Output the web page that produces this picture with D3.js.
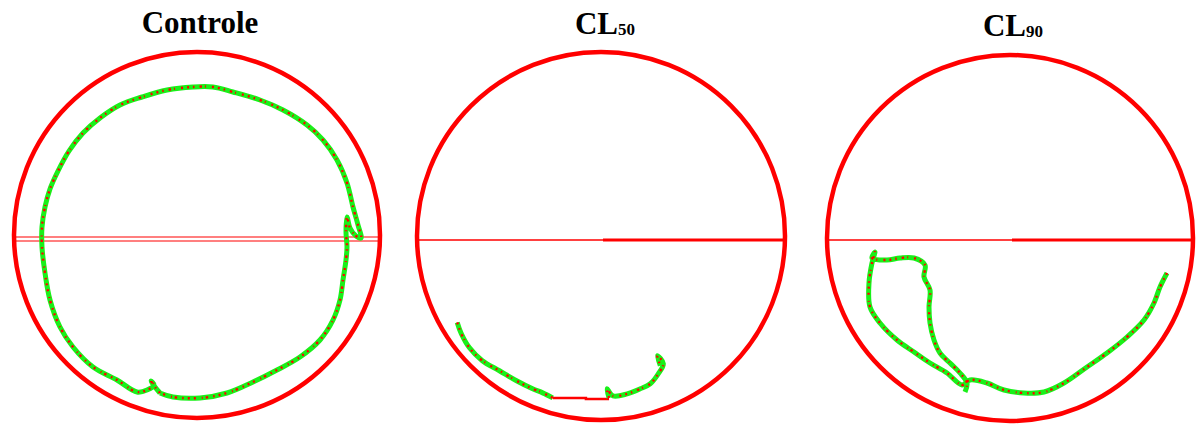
<!DOCTYPE html>
<html>
<head>
<meta charset="utf-8">
<script src="https://cdn.jsdelivr.net/npm/d3@7"></script>
<style>
  body { margin: 0; background: #fff; }
</style>
</head>
<body>
<div id="chart"></div>
<script>
// titles of the three arenas
var titles = ["Controle", "CL", "CL"];
var titleSubs = ["", "50", "90"];

// tracked positions, in arena units from the arena centre (arena radius = 183)
var trackControle = [
    [-37,158],[-42,152],[-46,146],[-43,150],[-50,155],[-60,157],[-80,145],[-104,132],
    [-124,112],[-137,92],[-147,65],[-152,38],[-155,12],[-155,-8],[-152,-28],[-147,-46],
    [-139,-64],[-128,-84],[-114,-102],[-97,-117],[-77,-130],[-55,-138],[-30,-145],[-4,-148],
    [16,-148],[36,-143],[63,-135],[86,-125],[110,-110],[126,-95],[140,-75],[150,-52],
    [156,-28],[161,-10],[164,3],[159,1],[153,-7],[150,-18],[149,-3],[150,12],[149,25],
    [146,45],[143,65],[136,85],[123,105],[103,122],[80,135],[56,147],[30,158],[3,163],
    [-24,162],[-37,158]
];

var trackCL50Left = [
    [-143,86],[-139,97],[-131,111],[-118,124],[-101,134],[-84,144],[-68,152],[-58,156],[-48,161]
];
var jumpCL50 = [[-48,161],[-15,161],[-15,162],[8,162]];
var trackCL50Right = [
    [8,161],[6,152],[12,159],[26,157],[39,152],[49,147],[57,137],[62,127],[56,119],[59,129]
];

var trackCL90 = [
    [157,35],[150,49],[144,65],[134,82],[117,99],[97,115],[77,129],[54,145],[34,154],
    [14,155],[-6,152],[-23,145],[-40,142],[-48,147],[-63,135],[-80,125],[-96,114],
    [-113,102],[-130,85],[-140,69],[-141,45],[-138,25],[-135,14],[-138,20],[-123,22],
    [-110,20],[-96,20],[-85,27],[-86,39],[-80,52],[-81,69],[-80,85],[-76,102],[-70,115],
    [-60,125],[-50,135],[-43,145],[-45,154]
];

var tracks = [[trackControle], [trackCL50Left, trackCL50Right], [trackCL90]];
var jumps = [[], [jumpCL50], []];

var width = 1197, height = 424;
var arenaR = 183;

var layout = [
    {cx: 197, cy: 235, r: 183, mid: 4, titleX: 200, titleY: 33, double: true},
    {cx: 601, cy: 236, r: 184, mid: 4, titleX: 605, titleY: 34, double: false},
    {cx: 1010, cy: 238, r: 183, mid: 2, titleX: 1013, titleY: 36, double: false}
];

var svg = d3.select("#chart")
    .append("svg")
    .attr("width", width)
    .attr("height", height);

var line = d3.line().curve(d3.curveCatmullRom.alpha(0.5));

layout.forEach(function(p, i) {
    var x = d3.scaleLinear().domain([-arenaR, arenaR]).range([p.cx - p.r, p.cx + p.r]);
    var y = d3.scaleLinear().domain([-arenaR, arenaR]).range([p.cy - p.r, p.cy + p.r]);
    line.x(function(d) { return x(d[0]); }).y(function(d) { return y(d[1]); });

    var g = svg.append("g");

    // title
    var t = g.append("text")
        .attr("x", p.titleX)
        .attr("y", p.titleY)
        .attr("text-anchor", "middle")
        .style("font-family", "'Liberation Serif', 'Times New Roman', serif")
        .style("font-weight", "bold")
        .style("font-size", "31px")
        .text(titles[i]);
    if (titleSubs[i]) {
        t.append("tspan")
            .attr("dy", 1)
            .style("font-size", "17px")
            .text(titleSubs[i]);
    }

    // arena
    g.append("circle")
        .attr("cx", x(0))
        .attr("cy", y(0))
        .attr("r", x(arenaR) - x(0))
        .attr("fill", "none")
        .attr("stroke", "#ff0000")
        .attr("stroke-width", 4.5);

    // dividing line
    var my = y(p.mid);
    if (p.double) {
        [-2, 2].forEach(function(o) {
            g.append("line")
                .attr("x1", x(-arenaR) - 2).attr("x2", x(arenaR) + 2)
                .attr("y1", my + o).attr("y2", my + o)
                .attr("stroke", "#ff0000")
                .attr("stroke-width", 1.2);
        });
    } else {
        g.append("line")
            .attr("x1", x(-arenaR)).attr("x2", x(2))
            .attr("y1", my).attr("y2", my)
            .attr("stroke", "#ff0000")
            .attr("stroke-width", 1.3);
        g.append("line")
            .attr("x1", x(2)).attr("x2", x(arenaR))
            .attr("y1", my).attr("y2", my)
            .attr("stroke", "#ff0000")
            .attr("stroke-width", 3);
    }

    // red jumps (lost tracking)
    jumps[i].forEach(function(seg) {
        g.append("path")
            .attr("d", d3.line().x(function(d) { return x(d[0]); }).y(function(d) { return y(d[1]); })(seg))
            .attr("fill", "none")
            .attr("stroke", "#ff0000")
            .attr("stroke-width", 2.5);
    });

    // tracks: green body with red speckles
    tracks[i].forEach(function(seg) {
        g.append("path")
            .attr("d", line(seg))
            .attr("fill", "none")
            .attr("stroke", "#19f019")
            .attr("stroke-width", 5)
            .attr("stroke-linejoin", "round");
        g.append("path")
            .attr("d", line(seg))
            .attr("fill", "none")
            .attr("stroke", "#ff0000")
            .attr("stroke-width", 2.4)
            .attr("stroke-dasharray", "2 4 1.5 5 2.5 3 1 6 2 4");
    });
});
</script>
</body>
</html>
